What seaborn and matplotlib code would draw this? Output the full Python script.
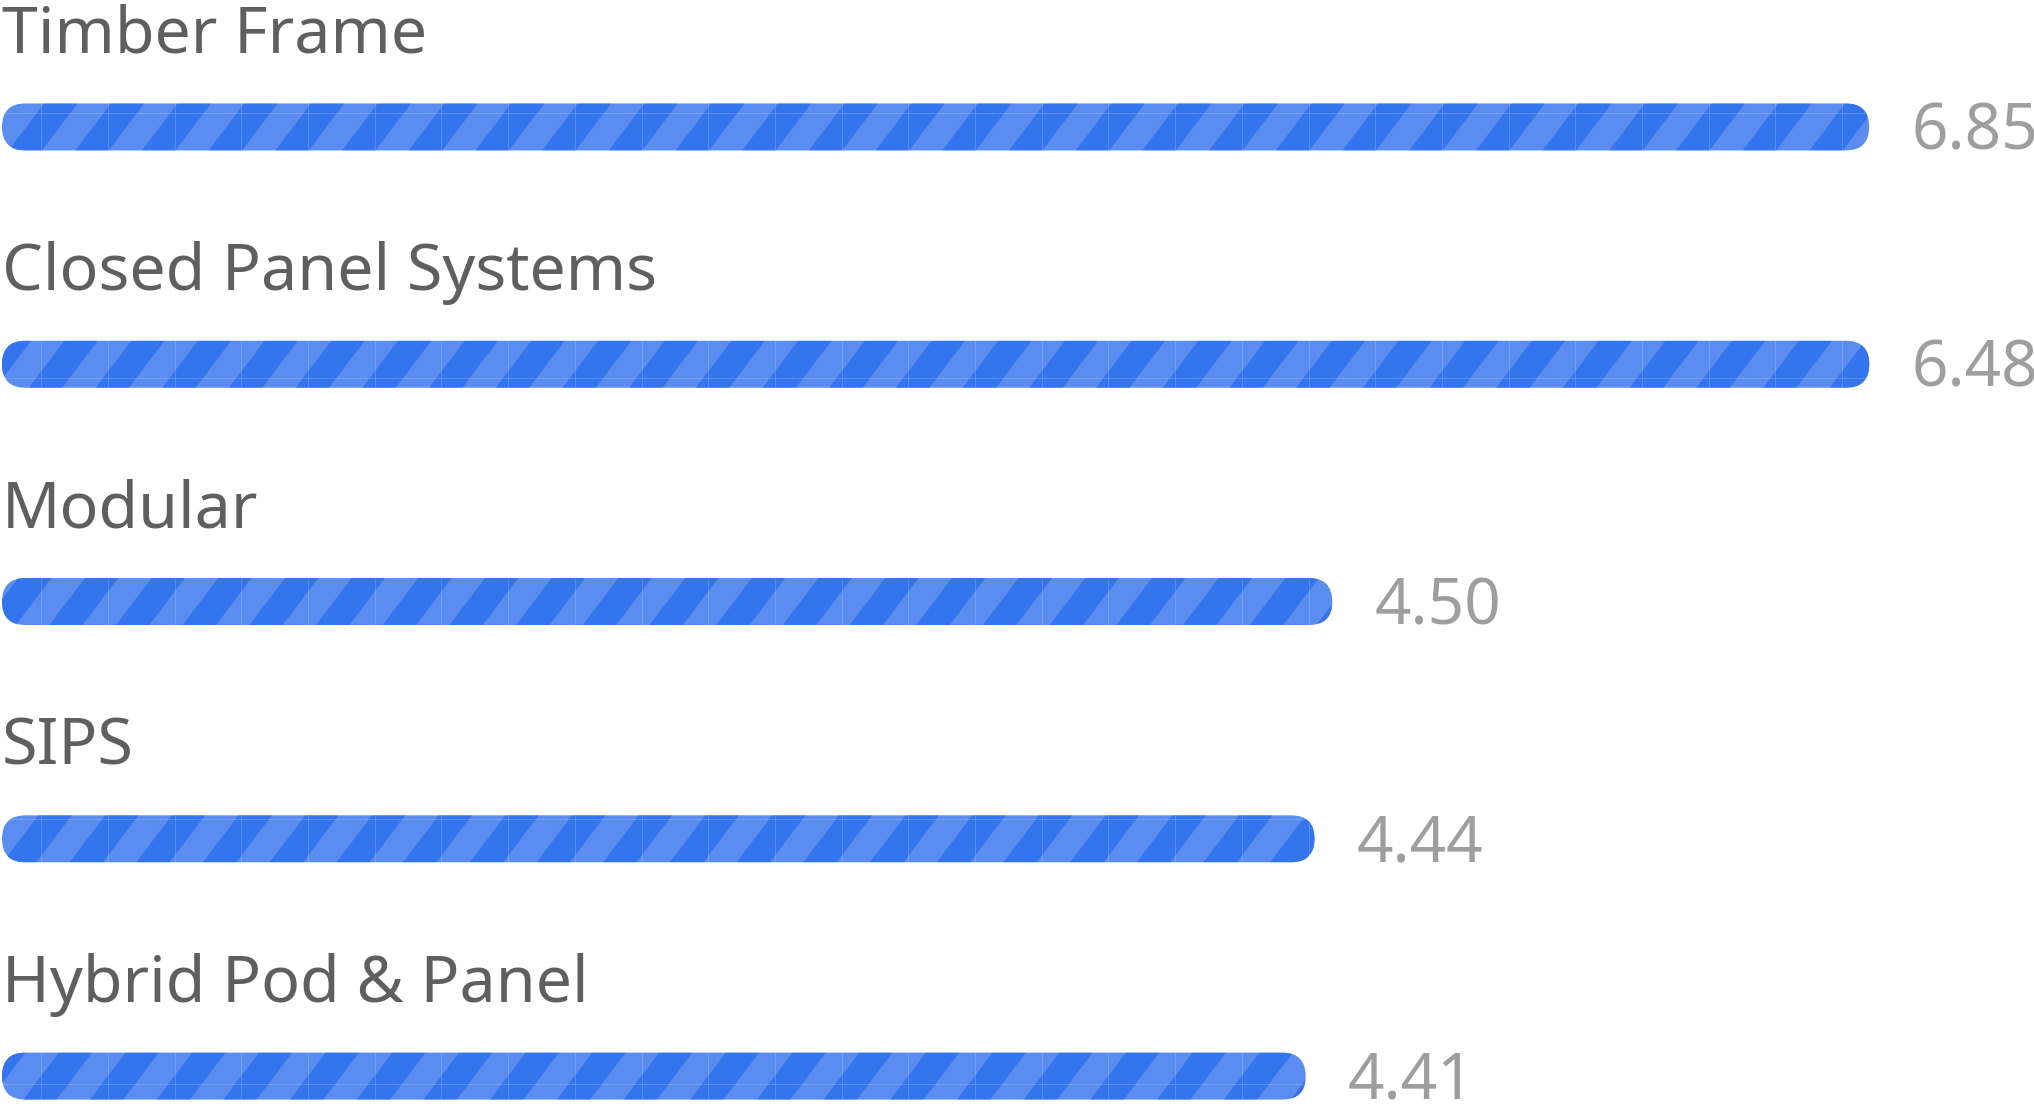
import numpy as np
import pandas as pd
import seaborn as sns
import matplotlib.pyplot as plt
from matplotlib.patches import FancyBboxPatch
from matplotlib.collections import PolyCollection, LineCollection
from matplotlib.transforms import IdentityTransform, offset_copy

# data
categories = ["Timber Frame", "Closed Panel Systems", "Modular", "SIPS", "Hybrid Pod & Panel"]
scores = [6.85, 6.48, 4.50, 4.44, 4.41]
score_labels = [f"{v:.2f}" for v in scores]

W, H, DPI = 2034, 1106, 100
dark_blue = "#3474ED"
light_blue = "#5B8DF0"
label_grey = "#5F5F5F"
value_grey = "#9E9E9E"
font_label = 46.5
font_value = 46

sns.set_theme(style="white")
plt.rcParams['font.family'] = ['Noto Sans', 'DejaVu Sans']

df = pd.DataFrame({'method': categories, 'score': scores})

fig = plt.figure(figsize=(W / DPI, H / DPI), dpi=DPI)
ax = fig.add_axes([0, 0, 1, 1])
sns.barplot(data=df, x='score', y='method', orient='h', color=dark_blue,
            width=0.198, ax=ax)
ax.set_xlim(-0.0068, max(scores) * 1.0035)
ax.set_ylim(4.126, -0.535)
ax.axis('off')

fig.canvas.draw()
renderer = fig.canvas.get_renderer()
px = IdentityTransform()


def stripes_for(x0, x1, yt, yb, period=66.7, slope=1.32, ref=(378, 103)):
    # "/" stripes in image pixel coords (y down), returned in display coords
    polys = []
    shift = (yb - ref[1]) / slope
    k0 = int(np.floor((x0 - ref[0] - 100) / period)) - 1
    k1 = int(np.ceil((x1 - ref[0] + shift + 100) / period)) + 1
    for k in range(k0, k1):
        base = ref[0] + k * period
        xt = base - (yt - ref[1]) / slope
        xb = base - (yb - ref[1]) / slope
        pts = [(xt, yt), (xt + period / 2, yt), (xb + period / 2, yb), (xb, yb)]
        polys.append([(x, H - y) for x, y in pts])
    return polys


def seams_for(x0, x1, yt, yb, ox=41.2, oy=24.7, tw=66.7, th=88.3):
    segs = []
    xs = ox + tw * np.arange(np.floor((x0 - ox) / tw), np.ceil((x1 - ox) / tw) + 1)
    for x in xs:
        if x0 < x < x1:
            segs.append([(x, H - yt), (x, H - yb)])
    ys = oy + th * np.arange(np.floor((yt - oy) / th), np.ceil((yb - oy) / th) + 1)
    for y in ys:
        if yt < y < yb:
            segs.append([(x0, H - y), (x1, H - y)])
    return segs


gap = 42
bars = sorted(ax.patches, key=lambda p: p.get_y())
for i, (patch, name, lab) in enumerate(zip(bars, categories, score_labels)):
    # value label, measured first so the bar can leave room for it
    txt = ax.text(0, 0, lab, fontsize=font_value, color=value_grey,
                  transform=px, va='baseline', ha='left')
    tw = txt.get_window_extent(renderer).width
    bb = patch.get_window_extent(renderer)
    x_end = min(bb.x1, W + 4 - tw - gap)
    new_w = ax.transData.inverted().transform((x_end, 0))[0] - patch.get_x()
    patch.set_width(new_w)
    bb = patch.get_window_extent(renderer)
    patch.set_visible(False)

    h = bb.height
    rounded = FancyBboxPatch((bb.x0, bb.y0), bb.width, h,
                             boxstyle=f"round,pad=0,rounding_size={h / 2}",
                             transform=px, fc=light_blue, ec='none', zorder=2)
    ax.add_patch(rounded)
    yt, yb = H - bb.y1, H - bb.y0
    pc = PolyCollection(stripes_for(bb.x0, bb.x1, yt, yb), transform=px,
                        facecolor=dark_blue, edgecolor='none', zorder=3)
    ax.add_collection(pc)
    pc.set_clip_path(rounded)
    lc = LineCollection(seams_for(bb.x0, bb.x1, yt, yb), transform=px,
                        colors='white', alpha=0.2, linewidths=0.6, zorder=4)
    ax.add_collection(lc)
    lc.set_clip_path(rounded)

    txt.set_position((bb.x1 + gap, bb.y0 + 1))

    ax.text(0, i, name, fontsize=font_label, color=label_grey, va='baseline',
            ha='left', transform=offset_copy(ax.transData, fig, x=0, y=74, units='dots'))

fig.savefig('out.png', dpi=DPI, facecolor='white')
